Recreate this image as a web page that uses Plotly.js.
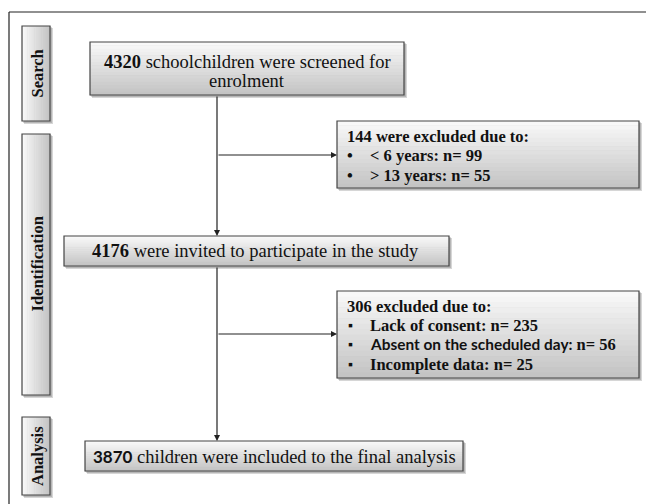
<!DOCTYPE html>
<html>
<head>
<meta charset="utf-8">
<script src="https://cdn.plot.ly/plotly-3.0.1.min.js"></script>
<style>html,body{margin:0;padding:0;background:#fff;}#chart{width:647px;height:504px;}</style>
</head>
<body>
<div id="chart"></div>
<script>
// ---- data (flow counts) ----
const stageLabels = ["Search", "Identification", "Analysis"];
const screened = 4320;
const excluded1 = 144;
const excl1Reasons = ["< 6 years", "> 13 years"];
const excl1Counts = [99, 55];
const invited = 4176;
const excluded2 = 306;
const excl2Reasons = ["Lack of consent", "Absent on the scheduled day", "Incomplete data"];
const excl2Counts = [235, 56, 25];
const included = 3870;

// ---- layout geometry (pixel units on a 647x504 canvas) ----
const SERIF = "Liberation Serif";
const SANS = "Lato";
const shapes = [];
const annotations = [];

function mix(a, b, t) {
  const r = Math.round(a[0] + (b[0] - a[0]) * t);
  const g = Math.round(a[1] + (b[1] - a[1]) * t);
  const bl = Math.round(a[2] + (b[2] - a[2]) * t);
  return `rgb(${r},${g},${bl})`;
}
const TOP = [250, 250, 250], BOT = [194, 194, 194];

function box(x0, y0, x1, y1, horizontal) {
  shapes.push({type: "rect", xref: "x", yref: "y", x0: x0 + 2, y0: y0 + 2, x1: x1 + 3, y1: y1 + 3,
    fillcolor: "rgba(0,0,0,0.16)", line: {width: 0}, layer: "below"});
  shapes.push({type: "rect", xref: "x", yref: "y", x0: x0 + 1, y0: y0 + 1, x1: x1 + 2, y1: y1 + 2,
    fillcolor: "rgba(0,0,0,0.15)", line: {width: 0}, layer: "below"});
  const n = 16;
  for (let i = 0; i < n; i++) {
    const t = (i + 0.5) / n;
    if (horizontal) {
      const w = (x1 - x0) / n;
      shapes.push({type: "rect", xref: "x", yref: "y", x0: x0 + i * w, x1: x0 + (i + 1) * w + 0.5, y0: y0, y1: y1,
        fillcolor: mix(TOP, BOT, t), line: {width: 0}, layer: "below"});
    } else {
      const h = (y1 - y0) / n;
      shapes.push({type: "rect", xref: "x", yref: "y", x0: x0, x1: x1, y0: y0 + i * h, y1: y0 + (i + 1) * h + 0.5,
        fillcolor: mix(TOP, BOT, t), line: {width: 0}, layer: "below"});
    }
  }
  shapes.push({type: "rect", xref: "x", yref: "y", x0: x0, y0: y0, x1: x1, y1: y1,
    fillcolor: "rgba(0,0,0,0)", line: {color: "#444", width: 1.2}, layer: "below"});
}
function line(x0, y0, x1, y1) {
  shapes.push({type: "line", xref: "x", yref: "y", x0, y0, x1, y1, line: {color: "#222", width: 1.2}});
}
function arrow(xs, ys, xe, ye) {
  annotations.push({x: xe, y: ye, ax: xs, ay: ys, xref: "x", yref: "y", axref: "x", ayref: "y",
    text: "", showarrow: true, arrowhead: 2, arrowsize: 1, arrowwidth: 1.2, arrowcolor: "#222", standoff: 0});
}
function text(x, y, t, opts) {
  annotations.push(Object.assign({x, y, xref: "x", yref: "y", text: t, showarrow: false,
    font: {family: SERIF, size: 18.5, color: "#111"}, xanchor: "center", yanchor: "middle"}, opts || {}));
}

// outer frame
line(9, 12, 646, 12);
line(9, 12, 9, 504);

// stage label boxes
const stageBoxes = [[22, 26, 50, 121], [22, 134, 50, 395], [22, 417, 50, 495]];
stageBoxes.forEach((b, i) => {
  box(b[0], b[1], b[2], b[3], true);
  text((b[0] + b[2]) / 2 + 1, (b[1] + b[3]) / 2, "<b>" + stageLabels[i] + "</b>",
    {textangle: -90, font: {family: SERIF, size: 16.5, color: "#111"}});
});

// main boxes
box(90, 42, 404, 95, false);
text(247, 62, `<b>${screened}</b> schoolchildren were screened for`);
text(247, 81, `enrolment`);

box(64, 236, 449, 266, false);
text(255, 251, `<b>${invited}</b> were invited to participate in the study`);

box(85, 441, 463, 471, false);
text(274, 456, `<b><span style="font-family:${SANS};font-size:17px">${included}</span></b> children were included to the final analysis`);

// exclusion boxes
const EXF = {family: SERIF, size: 16.5, color: "#111"};
box(337, 121, 639, 188, false);
text(345, 136, `<b>${excluded1} were excluded due to:</b>`, {xanchor: "left", font: EXF});
excl1Reasons.forEach((r, i) => {
  const y = 155.5 + i * 19.5;
  text(345, y, "<b>•</b>", {xanchor: "left", font: EXF});
  text(368, y, `<b>${r}: n= ${excl1Counts[i]}</b>`, {xanchor: "left", font: EXF});
});

box(337, 291, 639, 378, false);
text(345, 306, `<b>${excluded2} excluded due to:</b>`, {xanchor: "left", font: EXF});
excl2Reasons.forEach((r, i) => {
  const y = 325 + i * 19.5;
  text(346, y, "<b>▪</b>", {xanchor: "left", font: {family: SERIF, size: 14, color: "#111"}});
  const label = i === 1 ? `<span style="font-family:${SANS};font-size:15.4px">${r}:</span>` : `${r}:`;
  text(368, y, `<b>${label} n= ${excl2Counts[i]}</b>`, {xanchor: "left", font: EXF});
});

// connectors
arrow(217, 95, 217, 236);
arrow(217, 155, 337, 155);
arrow(217, 266, 217, 441);
arrow(217, 334, 337, 334);

const layout = {
  width: 647, height: 504,
  margin: {l: 0, r: 0, t: 0, b: 0, pad: 0},
  paper_bgcolor: "#fff", plot_bgcolor: "#fff",
  xaxis: {range: [0, 647], visible: false, fixedrange: true},
  yaxis: {range: [504, 0], visible: false, fixedrange: true},
  showlegend: false,
  shapes, annotations
};
Plotly.newPlot("chart", [{x: [0], y: [0], mode: "markers", marker: {opacity: 0}, hoverinfo: "skip"}], layout, {staticPlot: true, displayModeBar: false});
</script>
</body>
</html>
